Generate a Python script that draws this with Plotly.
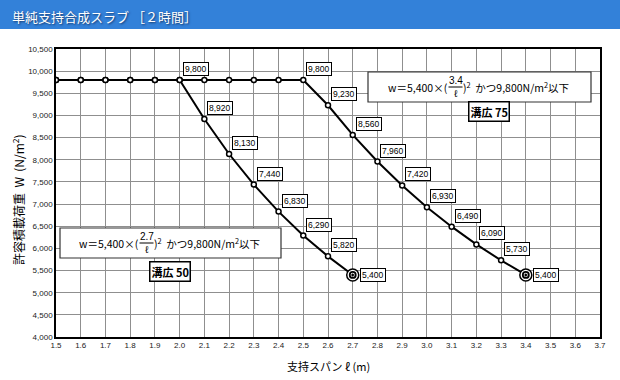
import plotly.graph_objects as go

# ---- data ----
span = [1.5, 1.6, 1.7, 1.8, 1.9, 2.0, 2.1, 2.2, 2.3, 2.4, 2.5, 2.6, 2.7, 2.8, 2.9, 3.0, 3.1, 3.2, 3.3, 3.4]
load_50 = [9800, 9800, 9800, 9800, 9800, 9800, 8920, 8130, 7440, 6830, 6290, 5820, 5400]
load_75 = [9800, 9800, 9800, 9800, 9800, 9800, 9800, 9800, 9800, 9800, 9800, 9230, 8560, 7960, 7420, 6930, 6490, 6090, 5730, 5400]
span_50 = span[:len(load_50)]
span_75 = span[:len(load_75)]
labeled_from_50 = 2.0
labeled_from_75 = 2.5
x_ticks = [round(1.5 + 0.1 * i, 1) for i in range(23)]
y_ticks = list(range(4000, 10501, 500))

title_text = "単純支持合成スラブ ［２時間］"
x_title = "支持スパン ℓ (m)"
y_title = "許容積載荷重  W  (N/m<sup>2</sup>)"

W, H = 620, 380
ML, MR, MT, MB = 56, 20, 49, 43
PW, PH = W - ML - MR, H - MT - MB
X0, X1, Y0, Y1 = 1.5, 3.7, 4000, 10500
sx = PW / (X1 - X0)
sy = PH / (Y1 - Y0)

FONT = "Liberation Sans, Arial, Noto Sans CJK JP"
JFONT = "Noto Sans CJK JP, Liberation Sans"

fig = go.Figure()

for xs, ys in [(span_75, load_75), (span_50, load_50)]:
    fig.add_trace(go.Scatter(
        x=xs, y=ys, mode="lines+markers",
        line=dict(color="black", width=2),
        marker=dict(symbol="circle", size=5, color="white", line=dict(color="black", width=1.5)),
        showlegend=False, hoverinfo="skip"))

# end points (double circle)
ends_x = [span_50[-1], span_75[-1]]
ends_y = [load_50[-1], load_75[-1]]
fig.add_trace(go.Scatter(x=ends_x, y=ends_y, mode="markers",
                         marker=dict(symbol="circle", size=12, color="white", line=dict(color="black", width=1.5)),
                         showlegend=False, hoverinfo="skip"))
fig.add_trace(go.Scatter(x=ends_x, y=ends_y, mode="markers",
                         marker=dict(symbol="circle-dot", size=6, color="white", line=dict(color="black", width=1.8)),
                         showlegend=False, hoverinfo="skip"))

annotations = []

def add_label(x, y, last):
    txt = f"{y:,}"
    if last:
        annotations.append(dict(x=x, y=y, text=txt, showarrow=False, xanchor="left", yanchor="middle",
                                xshift=7, font=dict(size=8.5, color="black", family=FONT),
                                bgcolor="white", bordercolor="black", borderwidth=1, borderpad=1))
    else:
        annotations.append(dict(x=x, y=y, text=txt, showarrow=False, xanchor="left", yanchor="bottom",
                                xshift=3, yshift=4, font=dict(size=8.5, color="black", family=FONT),
                                bgcolor="white", bordercolor="black", borderwidth=1, borderpad=1))

for xs, ys, start in [(span_50, load_50, labeled_from_50), (span_75, load_75, labeled_from_75)]:
    for i, (x, y) in enumerate(zip(xs, ys)):
        if x >= start - 1e-9:
            add_label(x, y, i == len(xs) - 1)

shapes = []

# title bar
shapes.append(dict(type="rect", xref="paper", yref="paper",
                   x0=-ML / PW, x1=1 + MR / PW, y0=(PH + MT - 29) / PH, y1=(PH + MT) / PH,
                   fillcolor="#3381d9", line=dict(width=0), layer="above"))
annotations.append(dict(xref="paper", yref="paper", x=(10 - ML) / PW, y=(PH + MT - 16) / PH,
                        text=title_text, showarrow=False, xanchor="left", yanchor="middle",
                        font=dict(size=13, color="white", family=JFONT, shadow="1px 1px 2px #15386a")))

def px2x(px):
    return X0 + (px - ML) / sx

def px2y(py):
    return Y0 + (MT + PH - py) / sy

def formula_box(cx, cy, bw, bh, frac, tag, tcx, tcy):
    shapes.append(dict(type="rect", xref="x", yref="y",
                       x0=px2x(cx - bw / 2), x1=px2x(cx + bw / 2),
                       y0=px2y(cy + bh / 2), y1=px2y(cy - bh / 2),
                       fillcolor="white", line=dict(color="#333", width=1.2), layer="above"))
    fc = cx - 24
    annotations.append(dict(x=px2x(fc - 6), y=px2y(cy), text="w＝5,400×(", showarrow=False,
                            xanchor="right", yanchor="middle", font=dict(size=10.5, color="black", family=JFONT)))
    annotations.append(dict(x=px2x(fc), y=px2y(cy - 7), text=frac, showarrow=False,
                            xanchor="center", yanchor="middle", font=dict(size=10, color="black", family=FONT)))
    annotations.append(dict(x=px2x(fc), y=px2y(cy + 6), text="ℓ", showarrow=False,
                            xanchor="center", yanchor="middle", font=dict(size=10, color="black", family=FONT)))
    shapes.append(dict(type="line", xref="x", yref="y", x0=px2x(fc - 7), x1=px2x(fc + 7),
                       y0=px2y(cy), y1=px2y(cy), line=dict(color="black", width=1), layer="above"))
    annotations.append(dict(x=px2x(fc + 5), y=px2y(cy), text=")<sup>2</sup>  かつ9,800N/m<sup>2</sup>以下", showarrow=False,
                            xanchor="left", yanchor="middle", font=dict(size=10.5, color="black", family=JFONT)))
    annotations.append(dict(x=px2x(tcx), y=px2y(tcy), text="<b>" + tag + "</b>", showarrow=False,
                            xanchor="center", yanchor="middle", font=dict(size=11, color="black", family=JFONT),
                            bgcolor="white", bordercolor="black", borderwidth=1.5, borderpad=1))

formula_box(479.5, 87, 223, 30, "3.4", "溝広 75", 488.5, 111)
formula_box(170.5, 243, 221, 30, "2.7", "溝広 50", 169.5, 271.5)

# axis titles
annotations.append(dict(xref="paper", yref="paper", x=0.5, y=-(366 - MT - PH) / PH,
                        text=x_title, showarrow=False, xanchor="center", yanchor="middle",
                        font=dict(size=11, color="black", family=JFONT)))
annotations.append(dict(xref="paper", yref="paper", x=(18 - ML) / PW, y=(MT + PH - 200) / PH,
                        text=y_title, showarrow=False, textangle=-90, xanchor="center", yanchor="middle",
                        font=dict(size=12, color="black", family=JFONT)))

fig.update_layout(
    width=W, height=H, margin=dict(l=ML, r=MR, t=MT, b=MB),
    paper_bgcolor="white", plot_bgcolor="white",
    shapes=shapes, annotations=annotations,
    xaxis=dict(range=[X0, X1], tickvals=x_ticks, ticktext=[f"{v:.1f}" for v in x_ticks],
               showgrid=True, gridcolor="#8f8f8f", gridwidth=1, zeroline=False,
               showline=True, linecolor="black", linewidth=1.5, mirror=True, ticks="",
               tickfont=dict(size=8, color="#222", family=FONT)),
    yaxis=dict(range=[Y0, Y1], tickvals=y_ticks, ticktext=[f"{v:,}" for v in y_ticks],
               showgrid=True, gridcolor="#8f8f8f", gridwidth=1, zeroline=False,
               showline=True, linecolor="black", linewidth=1.5, mirror=True, ticks="",
               tickfont=dict(size=8, color="#222", family=FONT)),
)

fig.write_html("out.html", config={"displayModeBar": False},
               post_script="document.body.style.margin='0';document.body.style.overflow='hidden';")
